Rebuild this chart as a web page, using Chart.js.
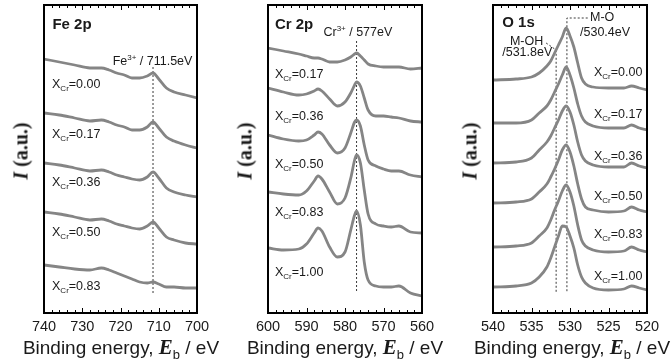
<!DOCTYPE html>
<html>
<head>
<meta charset="utf-8">
<script src="https://cdn.jsdelivr.net/npm/chart.js@4.4.0/dist/chart.umd.min.js"></script>
<style>
  html, body { margin: 0; padding: 0; background: #fff; overflow: hidden; }
  #wrap { position: relative; width: 672px; height: 364px; overflow: hidden; }
  canvas { position: absolute; top: 0; }
  .xt { position: absolute; top: 335px; width: 240px; text-align: center; white-space: nowrap;
        font: 19px "Liberation Sans", Arial, sans-serif; color: #1a1a1a; }
  .xt .e { font-family: "Liberation Serif", serif; font-style: italic; font-weight: bold; font-size: 21px; }
  .xt .s { font-size: 13px; position: relative; top: 5px; }
  .yt { position: absolute; top: 151px; white-space: nowrap; transform: translate(-50%, -50%) rotate(-90deg);
        font: bold 20px "Liberation Serif", serif; color: #1a1a1a; }
  .yt i { font-style: italic; }
</style>
</head>
<body>
<div id="wrap">
  <canvas id="fe" width="213" height="364" style="left:14px"></canvas>
  <canvas id="cr" width="214" height="364" style="left:238px"></canvas>
  <canvas id="ox" width="204" height="364" style="left:463px"></canvas>

  <div class="yt" style="left:21px"><i>I</i> (a.u.)</div>
  <div class="yt" style="left:245px"><i>I</i> (a.u.)</div>
  <div class="yt" style="left:470px"><i>I</i> (a.u.)</div>

  <div class="xt" style="left:1px">Binding energy, <span class="e">E</span><span class="s">b</span> / eV</div>
  <div class="xt" style="left:225px">Binding energy, <span class="e">E</span><span class="s">b</span> / eV</div>
  <div class="xt" style="left:452px">Binding energy, <span class="e">E</span><span class="s">b</span> / eV</div>
</div>

<script>
// ---- Fe 2p ----
const feEnergy = [740, 736, 732, 728, 725, 723, 721, 719, 717, 715, 713, 711.5, 710, 708, 706, 703, 700];
const feX000 = [254, 251, 248, 245, 245, 243, 240, 238, 235, 235, 237, 240, 234, 225, 221, 218, 215];
const feX017 = [200, 198, 195, 192, 193, 191, 188, 186, 183, 183, 186, 191, 185, 176, 172, 168, 165];
const feX036 = [150, 148, 145, 142, 143, 141, 138, 136, 134, 133, 136, 141, 135, 125, 121, 118, 116];
const feX050 = [101, 99, 96, 93, 94, 92, 89, 87, 85, 84, 87, 91, 85, 76, 73, 70, 69];
const feX083 = [48, 46, 44, 43, 45, 43, 40, 37, 34, 31, 30, 31, 29, 26, 26, 25, 25];
const feNames = ['0.00', '0.17', '0.36', '0.50', '0.83'];
const feTicks = [740, 730, 720, 710, 700];

// ---- Cr 2p ----
const crEnergy = [600, 596, 592, 590, 588, 587, 586, 584, 582, 580, 578.5, 577.5, 577, 576, 575, 574, 572, 570, 568, 566, 563, 560];
const crX017 = [265, 262, 259, 257, 255, 255, 254, 251, 251, 253, 256, 259, 260, 257, 253, 249, 247, 246, 246, 246, 244, 245];
const crX036 = [225, 221, 218, 219, 222, 224, 222, 214, 207, 211, 220, 228, 231, 227, 215, 203, 197, 197, 196, 195, 192, 191];
const crX050 = [178, 174, 172, 173, 178, 181, 179, 168, 160, 165, 180, 191, 193, 187, 168, 153, 147, 144, 142, 142, 138, 136];
const crX083 = [121, 119, 118, 122, 132, 137, 134, 121, 109, 115, 135, 153, 158, 150, 123, 99, 89, 87, 86, 87, 81, 80];
const crX100 = [65, 63, 64, 69, 80, 85, 82, 66, 56, 61, 83, 98, 102, 88, 51, 33, 27, 26, 26, 27, 20, 17];
const crNames = ['0.17', '0.36', '0.50', '0.83', '1.00'];
const crTicks = [600, 590, 580, 570, 560];

// ---- O 1s ----
const oEnergy = [540, 537, 535, 534, 533, 532.5, 532, 531.5, 531, 530.5, 530, 529.5, 529, 528.5, 528, 527, 525, 523, 522, 521, 520];
const oX000 = [233, 234, 236, 240, 247, 252, 260, 268, 276, 285, 277, 266, 250, 235, 229, 226, 225, 225, 227, 225, 223];
const oX017 = [190, 190, 193, 200, 207, 213, 221, 229, 238, 246, 238, 225, 209, 197, 191, 187, 185, 185, 188, 185, 183];
const oX036 = [150, 151, 155, 163, 171, 177, 185, 193, 202, 207, 201, 188, 171, 158, 152, 148, 146, 146, 150, 147, 145];
const oX050 = [110, 111, 114, 121, 129, 136, 144, 153, 163, 168, 161, 147, 129, 114, 106, 103, 101, 102, 106, 103, 101];
const oX083 = [66, 67, 70, 77, 85, 93, 103, 112, 122, 128, 121, 107, 88, 73, 67, 63, 61, 62, 66, 63, 61];
const oX100 = [26, 27, 30, 36, 46, 55, 66, 77, 87, 86, 77, 65, 48, 36, 30, 25, 23, 24, 27, 25, 23];
const oNames = ['0.00', '0.17', '0.36', '0.50', '0.83', '1.00'];
const oTicks = [540, 535, 530, 525, 520];

const LINE = '#858585';
const INK = '#1a1a1a';

// text pieces: [text, kind] where kind is '', 'sub', 'sup' or 'bold'
const drawParts = (ctx, x, y, parts, size, align) => {
    const fontFor = (kind) => {
        if (kind === 'sub' || kind === 'sup') return `${Math.round(size * 0.62)}px "Liberation Sans", Arial`;
        if (kind === 'bold') return `bold ${size}px "Liberation Sans", Arial`;
        return `${size}px "Liberation Sans", Arial`;
    };
    let total = 0;
    parts.forEach(([t, k]) => { ctx.font = fontFor(k); total += ctx.measureText(t).width; });
    let cx = align === 'right' ? x - total : x;
    ctx.textBaseline = 'middle';
    ctx.textAlign = 'left';
    ctx.fillStyle = INK;
    parts.forEach(([t, k]) => {
        ctx.font = fontFor(k);
        let dy = 0;
        if (k === 'sub') dy = size * 0.32;
        if (k === 'sup') dy = -size * 0.3;
        ctx.fillText(t, cx, y + dy);
        cx += ctx.measureText(t).width;
    });
};

// frame, inward ticks and text notes
const panelDecor = {
    id: 'panelDecor',
    afterDatasetsDraw(chart, args, opts) {
        const { ctx, chartArea: a } = chart;
        const xs = chart.scales.x, ys = chart.scales.y;
        ctx.save();
        ctx.strokeStyle = '#000';
        ctx.lineWidth = 1;
        for (let v = xs.min; v <= xs.max + 1e-6; v += opts.minor) {
            const px = Math.round(xs.getPixelForValue(v)) + 0.5;
            const major = opts.ticks.includes(v);
            const len = major ? 5 : 3;
            ctx.beginPath();
            ctx.moveTo(px, a.bottom); ctx.lineTo(px, a.bottom - len);
            ctx.moveTo(px, a.top); ctx.lineTo(px, a.top + len);
            ctx.stroke();
        }
        ctx.lineWidth = 2;
        ctx.strokeRect(a.left, a.top, a.right - a.left, a.bottom - a.top);
        opts.notes.forEach(n => {
            drawParts(ctx, xs.getPixelForValue(n.x), ys.getPixelForValue(n.y), n.parts, n.size, n.align);
        });
        ctx.restore();
    }
};

const makePanel = (id, cfg) => {
    const datasets = cfg.series.map(vals => ({
        data: cfg.energy.map((e, i) => ({ x: e, y: vals[i] })),
        borderColor: LINE,
        borderWidth: 2.8,
        pointRadius: 0,
        cubicInterpolationMode: 'monotone',
        fill: false
    }));
    cfg.refs.forEach(r => datasets.push({
        data: r,
        borderColor: '#3a3a3a',
        borderWidth: 1,
        borderDash: [2, 2],
        pointRadius: 0,
        fill: false
    }));

    const notes = cfg.labelAt.map((p, i) => ({
        x: p[0], y: p[1], size: 12.5, align: cfg.labelAlign,
        parts: [['X', ''], ['Cr', 'sub'], ['=' + cfg.names[i], '']]
    })).concat(cfg.extra);

    return new Chart(document.getElementById(id), {
        type: 'line',
        data: { datasets },
        options: {
            responsive: false,
            animation: false,
            layout: { padding: { left: cfg.padL, right: cfg.padR, top: 5, bottom: 11 } },
            plugins: {
                legend: { display: false },
                tooltip: { enabled: false },
                panelDecor: { minor: cfg.minor, ticks: cfg.ticks, notes }
            },
            scales: {
                x: {
                    type: 'linear',
                    reverse: true,
                    min: cfg.ticks[cfg.ticks.length - 1],
                    max: cfg.ticks[0],
                    grid: { display: false, drawTicks: false },
                    border: { display: false },
                    afterBuildTicks: s => { s.ticks = cfg.ticks.map(v => ({ value: v })); },
                    // fixed axis height so the frame bottom sits where the original has it
                    afterFit: s => { s.height = 40; },
                    ticks: {
                        padding: 5,
                        maxRotation: 0,
                        color: INK,
                        font: { family: '"Liberation Sans", Arial', size: 14.5 },
                        callback: v => v
                    }
                },
                y: { display: false, min: 0, max: 308 }
            }
        },
        plugins: [panelDecor]
    });
};

makePanel('fe', {
    energy: feEnergy,
    series: [feX000, feX017, feX036, feX050, feX083],
    names: feNames,
    ticks: feTicks,
    minor: 2,
    padL: 30, padR: 30,
    refs: [[{ x: 711.5, y: 246 }, { x: 711.5, y: 20 }]],
    labelAt: [[737.9, 228], [737.9, 178], [737.9, 130], [737.9, 80], [737.9, 26]],
    labelAlign: 'left',
    extra: [
        { x: 737.8, y: 288, size: 15, align: 'left', parts: [['Fe 2p', 'bold']] },
        { x: 701.2, y: 251, size: 12.5, align: 'right', parts: [['Fe', ''], ['3+', 'sup'], [' / 711.5eV', '']] }
    ]
});

makePanel('cr', {
    energy: crEnergy,
    series: [crX017, crX036, crX050, crX083, crX100],
    names: crNames,
    ticks: crTicks,
    minor: 2,
    padL: 30, padR: 30,
    refs: [[{ x: 577, y: 272 }, { x: 577, y: 22 }]],
    labelAt: [[598.2, 238], [598.2, 196], [598.2, 148], [598.2, 100], [598.2, 40]],
    labelAlign: 'left',
    extra: [
        { x: 598.2, y: 288, size: 15, align: 'left', parts: [['Cr 2p', 'bold']] },
        { x: 585.6, y: 280, size: 12.5, align: 'left', parts: [['Cr', ''], ['3+', 'sup'], [' / 577eV', '']] }
    ]
});

makePanel('ox', {
    energy: oEnergy,
    series: [oX000, oX017, oX036, oX050, oX083, oX100],
    names: oNames,
    ticks: oTicks,
    minor: 1,
    padL: 30, padR: 20,
    refs: [
        [{ x: 527.7, y: 295 }, { x: 530.4, y: 295 }, { x: 530.4, y: 20 }],
        [{ x: 533.1, y: 270 }, { x: 531.8, y: 263 }, { x: 531.8, y: 20 }]
    ],
    labelAt: [[520.6, 240], [520.6, 198], [520.6, 156], [520.6, 116], [520.6, 78], [520.6, 36]],
    labelAlign: 'right',
    extra: [
        { x: 538.8, y: 290, size: 15, align: 'left', parts: [['O 1s', 'bold']] },
        { x: 527.4, y: 295, size: 12.5, align: 'left', parts: [['M-O', '']] },
        { x: 528.7, y: 280, size: 12.5, align: 'left', parts: [['/530.4eV', '']] },
        { x: 537.8, y: 271, size: 12.5, align: 'left', parts: [['M-OH', '']] },
        { x: 538.8, y: 260, size: 12.5, align: 'left', parts: [['/531.8eV', '']] }
    ]
});
</script>
</body>
</html>
